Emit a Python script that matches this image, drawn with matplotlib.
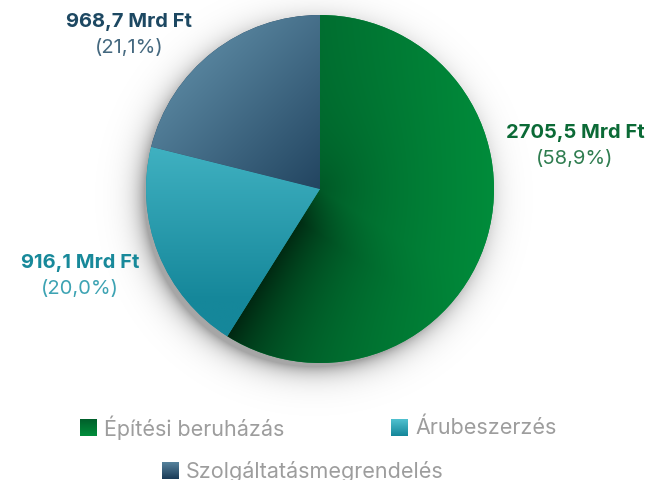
import numpy as np
import matplotlib
matplotlib.use("Agg")
import matplotlib.pyplot as plt
from matplotlib.colors import to_rgb

plt.rcParams['font.family'] = ['Inter', 'DejaVu Sans']

# data
categories = ['Építési beruházás', 'Árubeszerzés', 'Szolgáltatásmegrendelés']
values = [2705.5, 916.1, 968.7]   # Mrd Ft

# gradient end colours per slice (start, end)
grad_cols = [('#00602b', '#008d3b'), ('#4fc0cf', '#15879a'), ('#55819b', '#1b3c58')]
label_cols = [('#0b6a36', '#2f7d50'), ('#18899a', '#3da3b3'), ('#1d4862', '#44687f')]
label_pos = [(575, 133), (80, 263), (129, 22)]   # pixel position of the bold line
legend_pos = [(80, 428), (391, 428), (162, 471)]

W, H = 650, 480
fig = plt.figure(figsize=(6.5, 4.8), dpi=100)
ax = fig.add_axes([0, 0, 1, 1])

cx, cy, R = 320, 480 - 189, 174

# soft drop shadow under the pie
gx = np.linspace(0, W, W)
gy = np.linspace(0, H, H)
X, Y = np.meshgrid(gx, gy)
rr = np.hypot(X - (cx - 6), Y - (cy - 8))
sh = np.clip(0.35 * np.exp(-np.clip(rr - R + 4, 0, None) / 11.0), 0, 0.35)
shadow = np.zeros((H, W, 4))
shadow[..., 3] = sh
ax.imshow(shadow, extent=[0, W, 0, H], origin='lower', zorder=0)

wedges, _ = ax.pie(values, startangle=90, counterclock=False, center=(cx, cy),
                   radius=R, colors=[c[1] for c in grad_cols],
                   wedgeprops=dict(linewidth=0))

ext = [cx - R, cx + R, cy - R, cy + R]
n = 400
u = np.linspace(0, 1, n)
U, V = np.meshgrid(u, u)   # V: 0 bottom -> 1 top

def blend(c0, c1, t):
    a, b = np.array(to_rgb(c0)), np.array(to_rgb(c1))
    return a[None, None, :] * (1 - t[..., None]) + b[None, None, :] * t[..., None]

# green: left dark -> right bright, plus shadow along cyan border
img = blend(*grad_cols[0], np.clip((U - 0.25) / 0.75, 0, 1))
ang = np.deg2rad(90 - 360 * values[0] / sum(values))
px = (U - 0.5) * 2 * R
py = (V - 0.5) * 2 * R
s = px * np.cos(ang) + py * np.sin(ang)
d = np.abs(px * np.sin(ang) - py * np.cos(ang))
d = np.where(s > 0, d, np.hypot(px, py))
dark = 0.6 * np.exp(-d / 48.0) * np.clip(0.35 + s / 60.0, 0.35, 1)
img = img * (1 - dark[..., None])
layers = [img]
# cyan: vertical, top light -> bottom dark
layers.append(blend(*grad_cols[1], np.clip((0.78 - V) / 0.6, 0, 1)))
# navy: diagonal top-left light -> bottom-right dark
layers.append(blend(*grad_cols[2], np.clip((U + (1 - V) - 0.3) / 0.8, 0, 1)))

for w, im in zip(wedges, layers):
    art = ax.imshow(im, extent=ext, origin='lower', zorder=2)
    art.set_clip_path(w)

# labels
total = sum(values)
for v, (cb, cp), (lx, ly) in zip(values, label_cols, label_pos):
    amount = f'{v:.1f}'.replace('.', ',') + ' Mrd Ft'
    pct = '(' + f'{100 * v / total:.1f}'.replace('.', ',') + '%)'
    ax.text(lx, H - ly, amount, ha='center', va='center', fontsize=14.5,
            fontweight='bold', color=cb, zorder=5)
    ax.text(lx, H - ly - 26, pct, ha='center', va='center', fontsize=14.5,
            color=cp, zorder=5)

# legend
sq = 17
for cat, (c0, c1), (lx, ly) in zip(categories, grad_cols, legend_pos):
    t = np.linspace(0, 1, 20)[:, None] * np.ones((1, 2))
    im = blend(c1, c0, t) if cat != categories[1] else blend(c0, c1, 1 - t)
    ax.imshow(im, extent=[lx, lx + sq, H - ly - sq / 2, H - ly + sq / 2],
              origin='lower', zorder=5, interpolation='bilinear')
    ax.text(lx + sq + 7, H - ly, cat, ha='left', va='center', fontsize=15.5,
            color='#9d9d9d', zorder=5)

ax.set_xlim(0, W)
ax.set_ylim(0, H)
ax.set_aspect('auto')
ax.axis('off')

fig.savefig('out.png', dpi=100, facecolor='white')
